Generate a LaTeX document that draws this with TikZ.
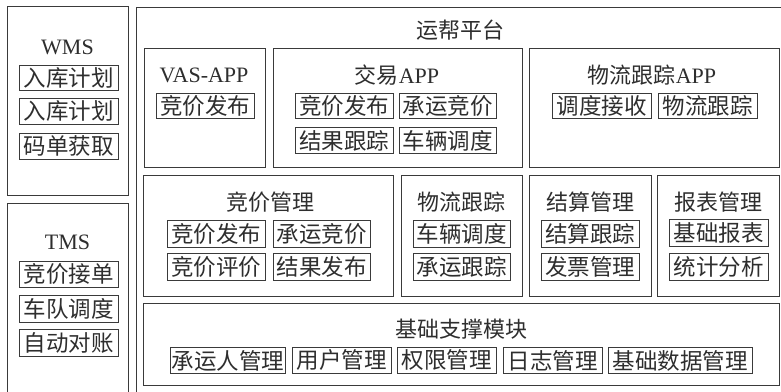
\documentclass[tikz,border=0pt]{standalone}
\usepackage{fontspec}
\setmainfont{Liberation Serif}
\newfontfamily\cjk{Noto Sans CJK SC}
\definecolor{ink}{HTML}{2E2E2E}
\definecolor{edge}{HTML}{3A3A3A}
\tikzset{
  panel/.style={draw=edge, line width=1.3pt, rectangle, anchor=north west, inner sep=0pt},
  group/.style={draw=edge, line width=1.2pt, rectangle, anchor=north west, inner sep=0pt},
  item/.style={draw=edge, line width=0.9pt, rectangle, anchor=north west, inner sep=0pt,
    text=ink, font=\cjk\fontsize{22.5}{23}\selectfont},
  ttl/.style={text=ink, inner sep=0pt, font=\fontsize{22}{23}\selectfont},
}
% \bxx{name}{x1}{y1}{x2}{y2}{style}{text}
\newcommand{\bxx}[7]{\node[#6, minimum width={#4-#2}, minimum height={#5-#3}] (#1) at (#2,#3) {#7};}
\begin{document}
\begin{tikzpicture}[x=1pt,y=-1pt]
\useasboundingbox (0,0) rectangle (781,391);
\fill[white] (0,0) rectangle (781,391);
\clip (0,0) rectangle (781,391);

% WMS
\bxx{wms}{7}{6}{128}{195}{panel}{}
\node[ttl] (wmst) at (67.5,47) {WMS};
\bxx{w1}{19}{65}{118}{90}{item}{入库计划}
\bxx{w2}{19}{98}{118}{124}{item}{入库计划}
\bxx{w3}{19}{133}{118}{159}{item}{码单获取}

% TMS
\bxx{tms}{7}{203}{128}{420}{panel}{}
\node[ttl] (tmst) at (67.5,242) {TMS};
\bxx{t1}{19}{261}{118}{287}{item}{竞价接单}
\bxx{t2}{19}{295}{118}{322}{item}{车队调度}
\bxx{t3}{19}{329}{118}{356}{item}{自动对账}

% Platform
\bxx{plat}{136}{7}{800}{420}{panel}{}
\node[ttl] (platt) at (460,30) {\cjk 运帮平台};

% Row 1
\bxx{vas}{144}{48}{265}{167}{group}{}
\node[ttl] (vast) at (204,75) {VAS-APP};
\bxx{v1}{156}{93}{254}{118}{item}{竞价发布}

\bxx{jy}{273}{48}{522}{167}{group}{}
\node[ttl] (jyt) at (397,75) {{\cjk 交易}APP};
\bxx{j1}{295}{93}{393}{118}{item}{竞价发布}
\bxx{j2}{399}{93}{496}{118}{item}{承运竞价}
\bxx{j3}{295}{127}{393}{153}{item}{结果跟踪}
\bxx{j4}{399}{127}{496}{153}{item}{车辆调度}

\bxx{wl}{529}{48}{779}{167}{group}{}
\node[ttl] (wlt) at (652,75) {{\cjk 物流跟踪}APP};
\bxx{l1}{552}{93}{651}{118}{item}{调度接收}
\bxx{l2}{658}{93}{757}{118}{item}{物流跟踪}

% Row 2
\bxx{jj}{143}{175}{393}{296}{group}{}
\node[ttl] (jjt) at (270,202) {\cjk 竞价管理};
\bxx{m1}{167}{220}{265}{247}{item}{竞价发布}
\bxx{m2}{273}{220}{370}{247}{item}{承运竞价}
\bxx{m3}{167}{253}{265}{280}{item}{竞价评价}
\bxx{m4}{273}{253}{370}{280}{item}{结果发布}

\bxx{wg}{401}{175}{522}{296}{group}{}
\node[ttl] (wgt) at (461,202) {\cjk 物流跟踪};
\bxx{g1}{413}{220}{510}{247}{item}{车辆调度}
\bxx{g2}{413}{253}{510}{280}{item}{承运跟踪}

\bxx{js}{529}{175}{651}{296}{group}{}
\node[ttl] (jst) at (590,202) {\cjk 结算管理};
\bxx{s1}{541}{220}{639}{247}{item}{结算跟踪}
\bxx{s2}{541}{253}{639}{280}{item}{发票管理}

\bxx{bb}{657}{175}{779}{296}{group}{}
\node[ttl] (bbt) at (718,202) {\cjk 报表管理};
\bxx{b1}{669}{219}{768}{246}{item}{基础报表}
\bxx{b2}{669}{253}{768}{280}{item}{统计分析}

% Row 3
\bxx{jc}{143}{303}{779}{385}{group}{}
\node[ttl] (jct) at (461,329) {\cjk 基础支撑模块};
\bxx{c1}{170}{347}{285}{373}{item}{承运人管理}
\bxx{c2}{292}{347}{391}{373}{item}{用户管理}
\bxx{c3}{397}{347}{496}{373}{item}{权限管理}
\bxx{c4}{503}{347}{602}{373}{item}{日志管理}
\bxx{c5}{608}{347}{752}{373}{item}{基础数据管理}
\end{tikzpicture}
\end{document}
